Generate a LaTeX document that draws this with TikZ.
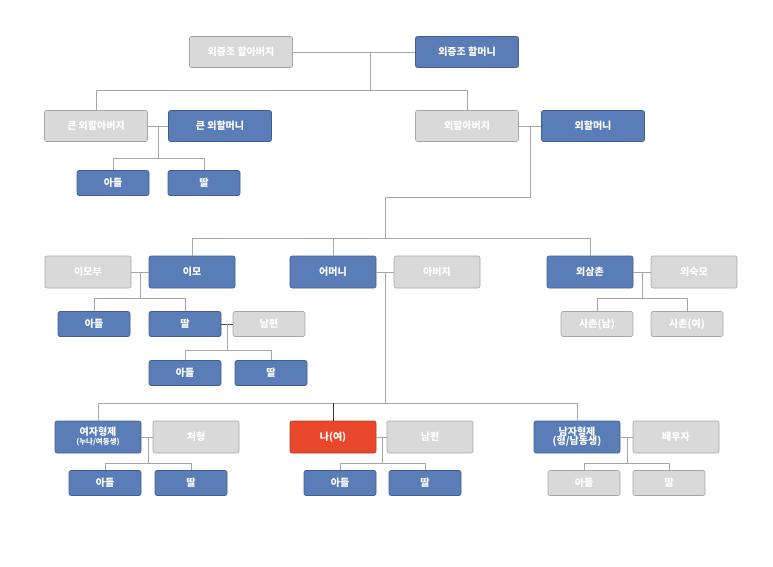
\documentclass[tikz,border=0pt]{standalone}
\usepackage{fontspec}
\setmainfont{Noto Sans CJK KR}
\begin{document}
\begin{tikzpicture}[x=1pt,y=-1pt,
 bx/.style={draw, rounded corners=2pt, text=white, font=\fontsize{10}{11}\selectfont\bfseries, align=center, inner sep=0pt, line width=0.6pt},
 bl/.style={bx, fill=blueC, draw=blueD},
 gr/.style={bx, fill=grayC, draw=grayD},
 rd/.style={bx, fill=redC, draw=redD},
 big/.style={minimum width=103pt, minimum height=31pt},
 mid/.style={minimum width=86pt, minimum height=32pt},
 sm/.style={minimum width=72pt, minimum height=25pt},
 ln/.style={draw=grayD, line width=0.6pt}]
\definecolor{blueC}{HTML}{5A7DB8}\definecolor{blueD}{HTML}{3F5E94}
\definecolor{grayC}{HTML}{D9D9D9}\definecolor{grayD}{HTML}{A6A6A6}
\definecolor{redC}{HTML}{E8472B}\definecolor{redD}{HTML}{B83A22}
\useasboundingbox (0,0) rectangle (773,567);
% generation 1
\node[gr,big] (ggf) at (241,52) {외증조 할아버지};
\node[bl,big] (ggm) at (467,52) {외증조 할머니};
% generation 2
\node[gr,big] (bgf) at (96,126) {큰 외할아버지};
\node[bl,big] (bgm) at (220,126) {큰 외할머니};
\node[gr,big] (gf) at (467,126) {외할아버지};
\node[bl,big] (gm) at (593,126) {외할머니};
\node[bl,sm] (bs) at (113,183) {아들};
\node[bl,sm] (bd) at (204,183) {딸};
% generation 3
\node[gr,mid] (imb) at (88,272) {이모부};
\node[bl,mid] (imo) at (192,272) {이모};
\node[bl,mid] (mom) at (333,272) {어머니};
\node[gr,mid] (dad) at (437,272) {아버지};
\node[bl,mid] (uncle) at (590,272) {외삼촌};
\node[gr,mid] (aunt) at (694,272) {외숙모};
\node[bl,sm] (is) at (94,324) {아들};
\node[bl,sm] (id) at (185,324) {딸};
\node[gr,sm] (ih) at (269,324) {남편};
\node[bl,sm] (iis) at (185,373) {아들};
\node[bl,sm] (iid) at (271,373) {딸};
\node[gr,sm] (cm) at (597,324) {사촌(남)};
\node[gr,sm] (cf) at (687,324) {사촌(여)};
% generation 4
\node[bl,mid] (sis) at (98,437) {여자형제\\[-2pt]{\fontsize{7.5}{8}\selectfont(누나/여동생)}};
\node[gr,mid] (sish) at (196,437) {처형};
\node[rd,mid] (me) at (333,437) {나(여)};
\node[gr,mid] (myh) at (430,437) {남편};
\node[bl,mid] (bro) at (577,437) {남자형제\\[-2pt](형/남동생)};
\node[gr,mid] (brow) at (676,437) {배우자};
\node[bl,sm] (ss) at (105,483) {아들};
\node[bl,sm] (sd) at (191,483) {딸};
\node[bl,sm] (ms) at (340,483) {아들};
\node[bl,sm] (md) at (425,483) {딸};
\node[gr,sm] (brs) at (584,483) {아들};
\node[gr,sm] (brd) at (669,483) {딸};
% connectors
\draw[ln] (ggf.east) -- (ggm.west);
\coordinate (j1) at (370,52); \coordinate (j1b) at (370,90);
\draw[ln] (j1) -- (j1b);
\draw[ln] (bgf.north |- j1b) -- (gf.north |- j1b);
\draw[ln] (bgf.north |- j1b) -- (bgf.north);
\draw[ln] (gf.north |- j1b) -- (gf.north);
\draw[ln] (bgf.east) -- (bgm.west);
\draw[ln] (gf.east) -- (gm.west);
\coordinate (j2) at (158,126); \coordinate (j2b) at (158,158);
\draw[ln] (j2) -- (j2b);
\draw[ln] (bs.north |- j2b) -- (bd.north |- j2b);
\draw[ln] (bs.north |- j2b) -- (bs.north);
\draw[ln] (bd.north |- j2b) -- (bd.north);
\coordinate (j3) at (530,126); \coordinate (j3b) at (530,197); \coordinate (j3c) at (385,197); \coordinate (j3d) at (385,238);
\draw[ln] (j3) -- (j3b) -- (j3c) -- (j3d);
\draw[ln] (imo.north |- j3d) -- (uncle.north |- j3d);
\foreach \n in {imo,mom,uncle} \draw[ln] (\n.north |- j3d) -- (\n.north);
\draw[ln] (imb.east) -- (imo.west);
\draw[ln] (mom.east) -- (dad.west);
\draw[ln] (uncle.east) -- (aunt.west);
\coordinate (j4) at (140,272); \coordinate (j4b) at (140,298);
\draw[ln] (j4) -- (j4b);
\draw[ln] (is.north |- j4b) -- (id.north |- j4b);
\foreach \n in {is,id} \draw[ln] (\n.north |- j4b) -- (\n.north);
\draw[black!70, line width=0.6pt] (id.east) -- (ih.west);
\coordinate (j5) at (227,324); \coordinate (j5b) at (227,350);
\draw[ln] (j5) -- (j5b);
\draw[ln] (iis.north |- j5b) -- (iid.north |- j5b);
\foreach \n in {iis,iid} \draw[ln] (\n.north |- j5b) -- (\n.north);
\coordinate (j6) at (642,272); \coordinate (j6b) at (642,298);
\draw[ln] (j6) -- (j6b);
\draw[ln] (cm.north |- j6b) -- (cf.north |- j6b);
\foreach \n in {cm,cf} \draw[ln] (\n.north |- j6b) -- (\n.north);
\coordinate (j7) at (385,272); \coordinate (j7b) at (385,403);
\draw[ln] (j7) -- (j7b);
\draw[ln] (sis.north |- j7b) -- (bro.north |- j7b);
\draw[ln] (sis.north |- j7b) -- (sis.north);
\draw[ln] (bro.north |- j7b) -- (bro.north);
\draw[black!80, line width=0.6pt] (me.north |- j7b) -- (me.north);
\draw[ln] (sis.east) -- (sish.west);
\draw[ln] (me.east) -- (myh.west);
\draw[ln] (bro.east) -- (brow.west);
\coordinate (j8) at (148,437); \coordinate (j8b) at (148,463);
\draw[ln] (j8) -- (j8b);
\draw[ln] (ss.north |- j8b) -- (sd.north |- j8b);
\foreach \n in {ss,sd} \draw[ln] (\n.north |- j8b) -- (\n.north);
\coordinate (j9) at (382,437); \coordinate (j9b) at (382,463);
\draw[ln] (j9) -- (j9b);
\draw[ln] (ms.north |- j9b) -- (md.north |- j9b);
\foreach \n in {ms,md} \draw[ln] (\n.north |- j9b) -- (\n.north);
\coordinate (j10) at (627,437); \coordinate (j10b) at (627,463);
\draw[ln] (j10) -- (j10b);
\draw[ln] (brs.north |- j10b) -- (brd.north |- j10b);
\foreach \n in {brs,brd} \draw[ln] (\n.north |- j10b) -- (\n.north);
\end{tikzpicture}
\end{document}
